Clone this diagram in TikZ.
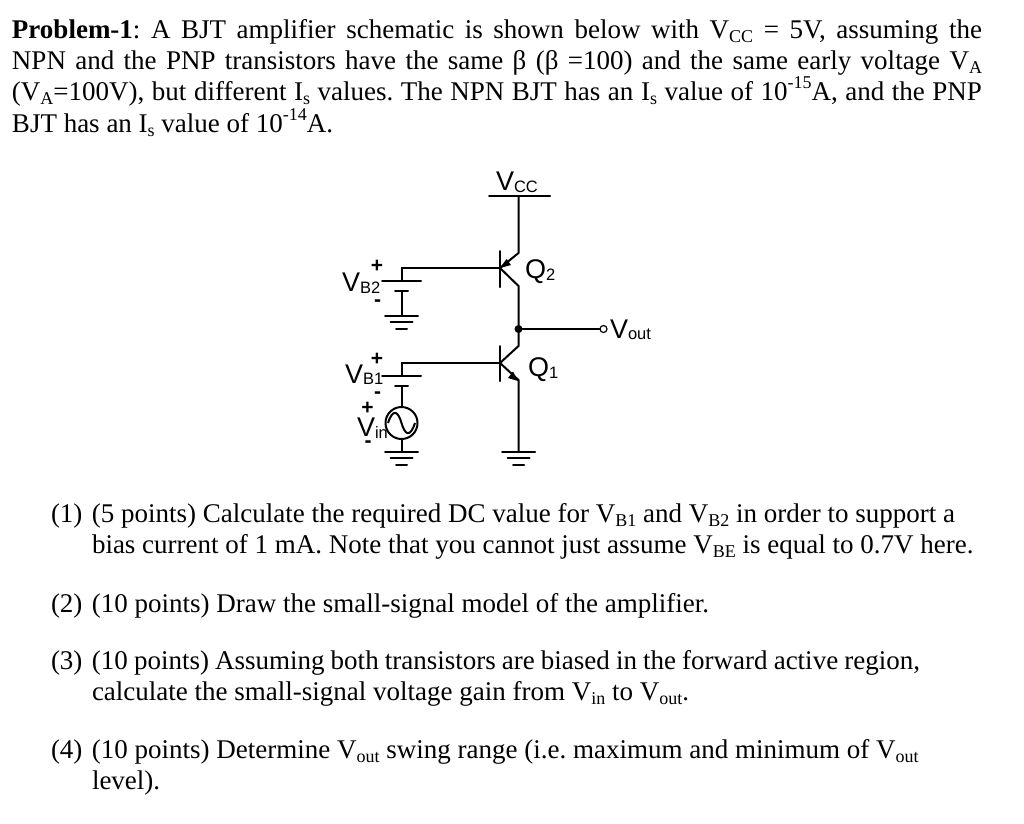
\documentclass[tikz,border=0pt]{standalone}
\usepackage{fontspec}
\setmainfont{Liberation Serif}
\newfontfamily\arialf{Liberation Sans}
\frenchspacing
\newcommand{\lowsc}[1]{\raisebox{-0.18em}{\fontsize{18}{18}\selectfont #1}}
\newcommand{\upsc}[1]{\raisebox{0.42em}{\fontsize{18}{18}\selectfont #1}}
\newcommand{\qnum}[1]{\hbox to 41pt{#1\hfil}}
\newcommand{\sch}[2]{{\arialf\fontsize{27}{27}\selectfont #1\raisebox{-1.5pt}{\fontsize{16.5}{16.5}\selectfont #2}}}
\tikzset{x=1pt,y=-1pt,
 wire/.style={line width=2pt,line cap=round,black},
 body/.style={anchor=base west,inner sep=0pt,outer sep=0pt,font=\fontsize{27}{28}\selectfont},
 slabel/.style={inner sep=0pt,outer sep=0pt,anchor=base west},
 pol/.style={inner sep=0pt,outer sep=0pt,font=\arialf\bfseries\fontsize{21}{21}\selectfont},
 pin/.style={circle,draw,line width=1.2pt,fill=white,inner sep=0pt,minimum size=7pt},
 src/.style={circle,draw,line width=2pt,inner sep=0pt,minimum size=32pt,fill=white}}
\begin{document}
\begin{tikzpicture}
\useasboundingbox (0,0) rectangle (1024,823);
% body text
\node[body] (l1) at (12,38) {\hbox to 970pt{\textbf{Problem-1}: A BJT amplifier schematic is shown below with V\lowsc{CC} = 5V, assuming the}};
\node[body] (l2) at (12,69) {\hbox to 970pt{NPN and the PNP transistors have the same β (β =100) and the same early voltage V\lowsc{A}}};
\node[body] (l3) at (12,100) {\hbox to 970pt{(V\lowsc{A}=100V), but different I\lowsc{s} values. The NPN BJT has an I\lowsc{s} value of 10\upsc{-15}A, and the PNP}};
\node[body] (l4) at (12,132) {BJT has an I\lowsc{s} value of 10\upsc{-14}A.};
\node[body] (q1a) at (51,522) {\qnum{(1)}(5 points) Calculate the required DC value for V\lowsc{B1} and V\lowsc{B2} in order to support a};
\node[body] (q1b) at (92,553) {bias current of 1 mA. Note that you cannot just assume V\lowsc{BE} is equal to 0.7V here.};
\node[body] (q2) at (51,612) {\qnum{(2)}(10 points) Draw the small-signal model of the amplifier.};
\node[body] (q3a) at (51,669) {\qnum{(3)}\hbox to 828pt{(10 points) Assuming both transistors are biased in the forward active region,}};
\node[body] (q3b) at (92,700) {calculate the small-signal voltage gain from V\lowsc{in} to V\lowsc{out}.};
\node[body] (q4a) at (51,758) {\qnum{(4)}(10 points) Determine V\lowsc{out} swing range (i.e. maximum and minimum of V\lowsc{out}};
\node[body] (q4b) at (92,789) {level).};
% points
\coordinate (vccL) at (489,196); \coordinate (vccR) at (550,196); \coordinate (vccM) at (518.5,196);
\coordinate (q2e) at (518.5,253); \coordinate (q2b) at (500,268); \coordinate (q2c) at (518.5,286);
\coordinate (out) at (518.5,329);
\coordinate (q1c) at (518.5,346); \coordinate (q1b) at (500,363); \coordinate (q1e) at (518.5,380);
\coordinate (gnd1) at (518.5,452);
\coordinate (b2a) at (401.5,268); \coordinate (b2b) at (401.5,281); \coordinate (b2c) at (401.5,291); \coordinate (g2) at (401.5,316);
\coordinate (b1a) at (401.5,363); \coordinate (b1b) at (401.5,376); \coordinate (b1c) at (401.5,386); \coordinate (g1) at (401.5,452);
% wires
\draw[wire] (vccL) -- (vccR);
\draw[wire] (vccM) -- (q2e) -- (q2b) -- (q2c) -- (out) -- (q1c) -- (q1b) -- (q1e) -- (gnd1);
\draw[wire] (500,251) -- (500,287);
\draw[wire] (500,346) -- (500,381);
\draw[wire] (q2b) -- (b2a) -- (b2b);
\draw[wire] (q1b) -- (b1a) -- (b1b);
\draw[wire] (382,281) -- (421,281);
\draw[wire] (395,291) -- (408,291);
\draw[wire] (b2c) -- (g2);
\draw[wire] (382,376) -- (421,376);
\draw[wire] (395,386) -- (408,386);
\draw[wire] (b1c) -- (g1);
% arrowheads
\fill (500,268) -- (506.5,259) -- (511,265) -- cycle;
\fill (518,381) -- (508,378) -- (513,371.5) -- cycle;
% grounds
\foreach \c/\n in {401.5/316,401.5/452,518.5/452}{
 \draw[wire] (\c-16.5,\n) -- (\c+16.5,\n);
 \draw[wire] (\c-11,\n+6) -- (\c+11,\n+6);
 \draw[wire] (\c-5.5,\n+12.5) -- (\c+5.5,\n+12.5);
}
% output
\fill (out) circle (4);
\node[pin] (pout) at (603.5,329) {};
\draw[wire] (out) -- (pout);
% source
\node[src] (vs) at (401.5,423) {};
\draw[line width=2pt] (388,423) .. controls (393,408) and (398,411) .. (401.5,423) .. controls (405,435) and (410,438) .. (415,423);
% labels
\node[slabel] (lvcc) at (496,190.5) {\sch{V}{CC}};
\node[slabel] (lq2) at (525,278.5) {\sch{Q}{2}};
\node[slabel] (lq1) at (528,376.5) {\sch{Q}{1}};
\node[slabel] (lvout) at (610,338) {\sch{V}{out}};
\node[slabel] (lvb2) at (342,291.5) {\sch{V}{B2}};
\node[slabel] (lvb1) at (345,383) {\sch{V}{B1}};
\node[slabel] (lvin) at (357,436.5) {\sch{V}{in}};
\node[pol] (p1) at (377,266.5) {+};
\node[pol] (m1) at (377.5,303) {-};
\node[pol] (p2) at (377,359) {+};
\node[pol] (m2) at (377.5,395) {-};
\node[pol] (p3) at (367.5,408) {+};
\node[pol] (m3) at (368,444) {-};
\end{tikzpicture}
\end{document}
